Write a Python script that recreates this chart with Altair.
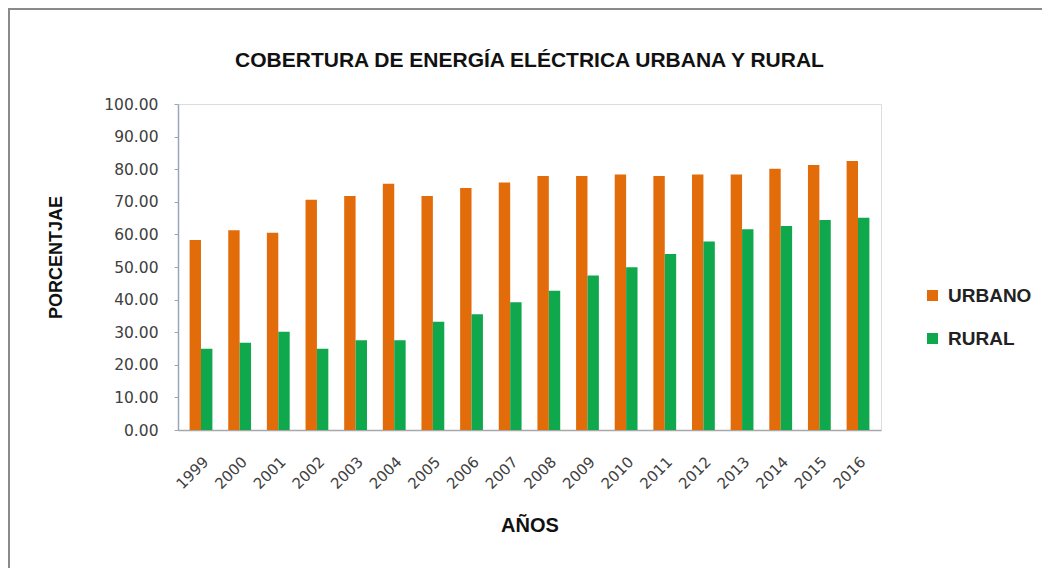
import altair as alt
import pandas as pd

years = [str(y) for y in range(1999, 2017)]
urbano = [58.3, 61.3, 60.5, 70.6, 71.8, 75.5, 71.8, 74.2, 75.9, 77.9, 77.9, 78.4, 77.9, 78.4, 78.4, 80.1, 81.3, 82.5]
rural = [24.9, 26.8, 30.1, 24.9, 27.5, 27.5, 33.2, 35.5, 39.2, 42.7, 47.4, 49.9, 54.0, 57.8, 61.6, 62.6, 64.4, 65.1]
series = ["URBANO", "RURAL"]
colors = ["#E36C0A", "#0FA84D"]

rows = []
for i, y in enumerate(years):
    rows.append({"year": y, "serie": "URBANO", "value": urbano[i]})
    rows.append({"year": y, "serie": "RURAL", "value": rural[i]})
df = pd.DataFrame(rows)

bars = alt.Chart(df).mark_bar().encode(
    x=alt.X("year:N", sort=years,
            scale=alt.Scale(paddingInner=0.41, paddingOuter=0.3),
            axis=alt.Axis(title="AÑOS", labelAngle=-45, ticks=False, labelPadding=24,
                          labelFont="DejaVu Sans", labelFontSize=15, labelColor="#404040",
                          domainColor="#a8a8a8", domainWidth=1.5,
                          titleFont="Liberation Sans", titleFontWeight="bold", titleFontSize=20,
                          titleColor="#111111", titleY=95, titleBaseline="middle")),
    xOffset=alt.XOffset("serie:N", sort=series, scale=alt.Scale(paddingInner=0, paddingOuter=0)),
    y=alt.Y("value:Q", scale=alt.Scale(domain=[0, 100], nice=False),
            axis=alt.Axis(title="PORCENTJAE", values=list(range(0, 101, 10)), format=".2f",
                          grid=False, tickSize=4, labelPadding=16,
                          labelFont="DejaVu Sans", labelFontSize=15.5, labelColor="#404040",
                          domainColor="#9aa6b8", tickColor="#9aa6b8", domainWidth=1.5,
                          titleFont="Liberation Sans", titleFontWeight="bold", titleFontSize=18,
                          titleColor="#111111", titleX=-122, titleY=153, titleAngle=-90,
                          titleBaseline="middle")),
    color=alt.Color("serie:N", sort=series,
                    scale=alt.Scale(domain=series, range=colors),
                    legend=alt.Legend(title=None, orient="none", legendX=745, legendY=182,
                                      symbolType="square", symbolSize=121, symbolStrokeWidth=0,
                                      labelFont="Liberation Sans", labelFontWeight="bold",
                                      labelFontSize=19, labelColor="#222222",
                                      labelOffset=6, rowPadding=23, padding=0)),
)

frame_src = alt.Data(values=[{"a": 1}])
left_line = alt.Chart(frame_src).mark_rule(stroke="#8a8a8a", strokeWidth=2).encode(
    x=alt.value(-169), y=alt.value(-96), y2=alt.value(464)
)
top_line = alt.Chart(frame_src).mark_rule(stroke="#8a8a8a", strokeWidth=2).encode(
    x=alt.value(-170), x2=alt.value(864), y=alt.value(-95)
)

chart = alt.layer(bars, left_line, top_line).properties(
    width=703, height=326,
    autosize=alt.AutoSizeParams(type="none"),
    padding={"left": 170, "top": 96, "right": 162, "bottom": 139},
    title=alt.TitleParams("COBERTURA DE ENERGÍA ELÉCTRICA URBANA Y RURAL",
                          font="Liberation Sans", fontWeight="bold", fontSize=21,
                          color="#111111", anchor="middle", frame="group", offset=0, dy=64),
).configure_view(strokeOpacity=0, stroke="white").configure(background="white")

chart.save("out.html", embed_options={"renderer": "svg", "actions": False})
